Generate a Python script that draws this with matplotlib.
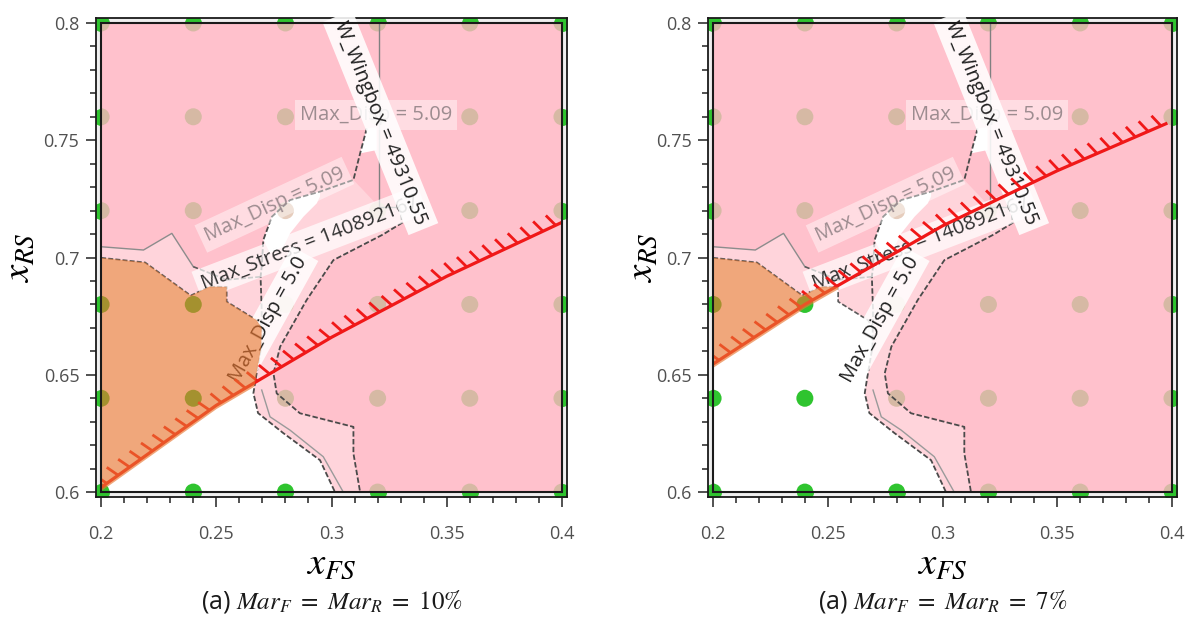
import numpy as np
import matplotlib.pyplot as plt
from matplotlib import patheffects
from matplotlib.patches import Polygon, Rectangle
from matplotlib.path import Path
from matplotlib.ticker import MultipleLocator

plt.rcParams['font.family'] = ['Open Sans', 'DejaVu Sans']
plt.rcParams['mathtext.fontset'] = 'stix'

# sampled designs (DOE grid)
grid_fs = [0.2, 0.24, 0.28, 0.32, 0.36, 0.4]
grid_rs = [0.6, 0.64, 0.68, 0.72, 0.76, 0.8]

fs_ticks = [0.2, 0.25, 0.3, 0.35, 0.4]
fs_ticklabels = ['0.2', '0.25', '0.3', '0.35', '0.4']
rs_ticks = [0.6, 0.65, 0.7, 0.75, 0.8]
rs_ticklabels = ['0.6', '0.65', '0.7', '0.75', '0.8']

# margin constraint curves (red, hatched)
margin_fs_10 = [0.2, 0.25, 0.3, 0.35, 0.4]
margin_rs_10 = [0.602, 0.637, 0.666, 0.692, 0.715]
margin_fs_7 = [0.2, 0.24, 0.3, 0.35, 0.398]
margin_rs_7 = [0.6546, 0.68, 0.7135, 0.737, 0.7573]

# contour lines (x_FS, x_RS)
stress_line = [(0.2, 0.7046), (0.2184, 0.7032), (0.2307, 0.7103), (0.24, 0.6961),
               (0.2545, 0.6905), (0.2692, 0.6918)]
feas_top = [(0.2, 0.6999), (0.2191, 0.6979), (0.2389, 0.6838), (0.2470, 0.6876),
            (0.2545, 0.6875), (0.2545, 0.6812), (0.2675, 0.6733), (0.2697, 0.6700)]
wall_left = [(0.3153, 0.7551), (0.3124, 0.7444), (0.3095, 0.7331), (0.295, 0.7281),
             (0.282, 0.7245), (0.2741, 0.7174), (0.2704, 0.7075), (0.2697, 0.6961),
             (0.2692, 0.6918), (0.2697, 0.6776), (0.2695, 0.662), (0.2675, 0.6507),
             (0.2661, 0.6422), (0.2681, 0.6337), (0.279, 0.6252), (0.295, 0.6136),
             (0.3015, 0.6)]
wall_right = [(0.3298, 0.7216), (0.3306, 0.7148), (0.3223, 0.7098), (0.3008, 0.6989),
              (0.2892, 0.6819), (0.2777, 0.662), (0.2748, 0.6506), (0.2762, 0.6421),
              (0.2863, 0.6336), (0.3095, 0.6278), (0.3095, 0.6165), (0.3124, 0.6)]
mid_line = [(0.2697, 0.6435), (0.2733, 0.6321), (0.282, 0.6264), (0.2964, 0.6151),
            (0.3051, 0.6)]
wingbox_line = [(0.3206, 0.8), (0.3206, 0.7216), (0.3298, 0.7216)]

# shaded regions
feasible = ([(0.2, 0.6)] + feas_top + [(0.2695, 0.662), (0.2675, 0.6507), (0.2661, 0.6422),
            (0.2681, 0.6337), (0.279, 0.6252), (0.295, 0.6136), (0.3015, 0.6)])
light_band = (stress_line + [(0.2697, 0.6776), (0.2697, 0.67)] + feas_top[::-1][1:])
channel = (wall_left[2:] + wall_right[::-1] + [(0.3206, 0.7216)])
crescent = [(0.2704, 0.7075), (0.2741, 0.7174), (0.282, 0.7245), (0.295, 0.7281),
            (0.295, 0.726), (0.2936, 0.7231), (0.2878, 0.7174), (0.282, 0.7103),
            (0.2791, 0.7046), (0.2733, 0.7018)]
notch = [(0.3153, 0.7551), (0.3196, 0.7555), (0.3196, 0.7458), (0.3124, 0.7444)]

PINK = '#ffc1cc'
LPINK = '#ffd4db'
GREEN = '#2fc42f'
DOT_PINK = '#d6b9a4'
DOT_LPINK = '#e6cdbd'
ORANGE = '#e87530'
RED = '#f01818'
DASH = (0, (3, 1.3))

panels = [
    (margin_fs_10, margin_rs_10, r'(a) $Mar_F\ =\ Mar_R\ =\ 10\%$'),
    (margin_fs_7, margin_rs_7, r'(a) $Mar_F\ =\ Mar_R\ =\ 7\%$'),
]
rects = [[0.0805, 0.2035, 0.3948, 0.7676], [0.5935, 0.2035, 0.3931, 0.7676]]
ylabel_x = [-0.123, -0.100]

fig = plt.figure(figsize=(11.93, 6.24), dpi=100)

for (m_fs, m_rs, caption), rect, ylx in zip(panels, rects, ylabel_x):
    ax = fig.add_axes(rect)
    ax.set_xlim(0.2 - 0.0022, 0.4 + 0.0022)
    ax.set_ylim(0.6 - 0.0021, 0.8 + 0.0021)
    ax.set_facecolor('#efefef')
    box = Rectangle((0.2, 0.6), 0.2, 0.2, transform=ax.transData)

    gx, gy = np.meshgrid(grid_fs, grid_rs)
    gx, gy = gx.ravel(), gy.ravel()
    ax.scatter(gx, gy, s=150, color=GREEN, lw=0, zorder=1)

    ax.add_patch(Rectangle((0.2, 0.6), 0.2, 0.2, fc=PINK, ec='none', zorder=2))
    for poly, col in [(light_band, LPINK), (channel, LPINK), (feasible, 'white'),
                      (crescent, 'white'), (notch, 'white')]:
        ax.add_patch(Polygon(poly, closed=True, fc=col, ec='none', zorder=2))

    # dot colour depends on the region it sits in
    pts = np.column_stack([np.clip(gx, 0.2005, 0.3995), np.clip(gy, 0.6005, 0.7995)])
    cols = np.array([DOT_PINK] * len(pts), dtype=object)
    for poly, c in [(light_band, DOT_LPINK), (channel, DOT_LPINK), (feasible, GREEN)]:
        cols[Path(poly).contains_points(pts)] = c
    sc = ax.scatter(gx, gy, s=150, c=list(cols), lw=0, zorder=3)
    sc.set_clip_path(box)

    # contour lines
    for line, ls, col, lw in [(stress_line[:4], '-', '#8c8c8c', 1.0),
                              (wingbox_line, '-', '#808080', 1.0),
                              (mid_line, '-', '#9a9a9a', 1.0),
                              (feas_top, DASH, '#5a5a5a', 1.2),
                              (stress_line[3:], DASH, '#5a5a5a', 1.2),
                              (wall_left, DASH, '#4a4a4a', 1.3),
                              (wall_right, DASH, '#4a4a4a', 1.3)]:
        xs, ys = zip(*line)
        ax.plot(xs, ys, ls=ls, color=col, lw=lw, zorder=4)

    # contour labels
    ax.text(0.3194, 0.7607, 'Max_Disp = 5.09', fontsize=14.5, color='#9d8c90',
            ha='center', va='center', zorder=5,
            bbox=dict(boxstyle='square,pad=0.25', fc='white', ec='none', alpha=0.45))
    ax.text(0.2752, 0.7225, 'Max_Disp = 5.09', fontsize=14.5, color='#9d8c90',
            rotation=25, rotation_mode='anchor', ha='center', va='center', zorder=5,
            bbox=dict(boxstyle='square,pad=0.25', fc='white', ec='none', alpha=0.45))
    ax.text(0.2905, 0.7064, 'Max_Stress = 140892167', fontsize=14.5, color='#303030',
            rotation=21, rotation_mode='anchor', ha='center', va='center', zorder=5,
            bbox=dict(boxstyle='square,pad=0.25', fc='white', ec='none', alpha=0.7))
    ax.text(0.2727, 0.6735, 'Max_Disp = 5.0', fontsize=14.5, color='#202020',
            rotation=61, rotation_mode='anchor', ha='center', va='center', zorder=5,
            bbox=dict(boxstyle='square,pad=0.25', fc='white', ec='none', alpha=0.85))
    ax.text(0.3212, 0.7575, 'W_Wingbox = 49310.55', fontsize=14.5, color='#202020',
            rotation=-68, rotation_mode='anchor', ha='center', va='center', zorder=5,
            bbox=dict(boxstyle='square,pad=0.3', fc='white', ec='none', alpha=0.88))

    # margin constraint with hatching
    ln, = ax.plot(m_fs, m_rs, color=RED, lw=2.3, zorder=6, solid_capstyle='butt',
                  path_effects=[patheffects.withTickedStroke(spacing=10, angle=110,
                                                             length=1.0, linewidth=2.0)])
    ln.set_clip_path(box)

    # feasible designs that violate the margin
    of = ax.fill_between(m_fs, np.array(m_rs) - 0.0013, 0.8, color=ORANGE, alpha=0.64,
                         lw=0, zorder=7)
    of.set_clip_path(Polygon(feasible, closed=True, transform=ax.transData))

    ax.add_patch(Rectangle((0.2, 0.6), 0.2, 0.2, fill=False, ec='#1a1a1a', lw=1.5, zorder=8))
    for sp in ax.spines.values():
        sp.set_color('#1a1a1a')
        sp.set_linewidth(1.3)

    ax.set_xticks(fs_ticks, fs_ticklabels)
    ax.set_yticks(rs_ticks, rs_ticklabels)
    ax.xaxis.set_minor_locator(MultipleLocator(0.01))
    ax.yaxis.set_minor_locator(MultipleLocator(0.01))
    ax.tick_params(which='both', direction='out', color='#333333', width=1.2)
    ax.tick_params(which='major', length=7, labelsize=13, labelcolor='#505050')
    ax.tick_params(which='minor', length=4)
    ax.tick_params(axis='x', which='major', pad=13)
    ax.tick_params(axis='y', which='major', pad=5)

    ax.set_xlabel(r'$x_{FS}$', fontsize=28)
    ax.xaxis.set_label_coords(0.5, -0.1)
    ax.set_ylabel(r'$x_{RS}$', fontsize=28)
    ax.yaxis.set_label_coords(ylx, 0.5)
    ax.text(0.5, -0.218, caption, transform=ax.transAxes, fontsize=18,
            ha='center', va='center', color='#1a1a1a')

fig.savefig('out.png', dpi=100)
